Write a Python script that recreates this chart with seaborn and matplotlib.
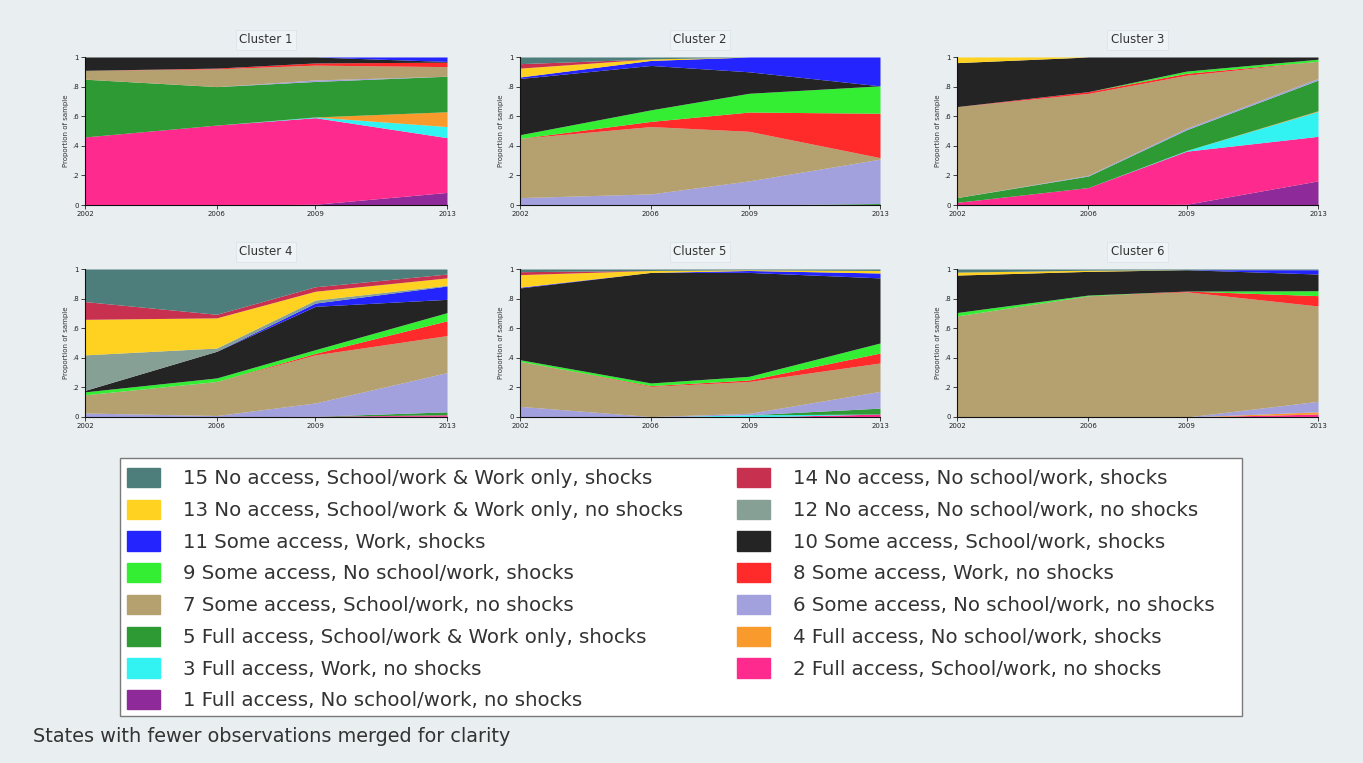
import matplotlib
matplotlib.use("Agg")
import matplotlib.pyplot as plt
from matplotlib.patches import Patch, Rectangle
import seaborn as sns

# ---------------- data ----------------
years = [2002, 2006, 2009, 2013]

state_labels = [
    "1 Full access, No school/work, no shocks",
    "2 Full access, School/work, no shocks",
    "3 Full access, Work, no shocks",
    "4 Full access, No school/work, shocks",
    "5 Full access, School/work & Work only, shocks",
    "6 Some access, No school/work, no shocks",
    "7 Some access, School/work, no shocks",
    "8 Some access, Work, no shocks",
    "9 Some access, No school/work, shocks",
    "10 Some access, School/work, shocks",
    "11 Some access, Work, shocks",
    "12 No access, No school/work, no shocks",
    "13 No access, School/work & Work only, no shocks",
    "14 No access, No school/work, shocks",
    "15 No access, School/work & Work only, shocks",
]

state_colors = [
    "#8e2a99",  # 1 purple
    "#ff2a8e",  # 2 pink
    "#33f2f2",  # 3 cyan
    "#f89a2c",  # 4 orange
    "#2e9a33",  # 5 dark green
    "#a3a0de",  # 6 lavender
    "#b5a170",  # 7 tan
    "#ff2a2a",  # 8 red
    "#33ee33",  # 9 bright green
    "#242424",  # 10 black
    "#2424ff",  # 11 blue
    "#86a096",  # 12 gray green
    "#ffd222",  # 13 yellow
    "#c8304f",  # 14 crimson
    "#4e7e7c",  # 15 teal
]

cluster_titles = ["Cluster 1", "Cluster 2", "Cluster 3",
                  "Cluster 4", "Cluster 5", "Cluster 6"]

# proportions of states 1..15, one row per year (2002, 2006, 2009, 2013)
cluster1 = [
    [0, .46, 0, 0, .39, 0, .06, 0, 0, .09, 0, 0, 0, 0, 0],
    [0, .54, 0, 0, .26, 0, .12, .005, 0, .075, 0, 0, 0, 0, 0],
    [.005, .585, .005, 0, .24, .01, .10, .015, 0, .04, 0, 0, 0, 0, 0],
    [.085, .37, .075, .10, .24, 0, .065, .03, 0, .005, .03, 0, 0, 0, 0],
]
cluster2 = [
    [0, 0, 0, 0, 0, .05, .40, 0, .025, .38, .01, 0, .06, .03, .045],
    [0, 0, 0, 0, 0, .075, .455, .035, .078, .30, .034, 0, .01, 0, .013],
    [0, 0, 0, 0, 0, .163, .335, .13, .127, .145, .10, 0, 0, 0, 0],
    [0, 0, 0, 0, .01, .30, .01, .30, .185, 0, .195, 0, 0, 0, 0],
]
cluster3 = [
    [0, .018, 0, 0, .032, 0, .615, 0, 0, .297, 0, 0, .038, 0, 0],
    [0, .118, 0, 0, .078, .005, .553, .012, 0, .234, 0, 0, 0, 0, 0],
    [.005, .359, .005, 0, .14, .01, .358, .013, .015, .095, 0, 0, 0, 0, 0],
    [.163, .301, .168, .005, .207, .011, .116, 0, .014, .015, 0, 0, 0, 0, 0],
]
cluster4 = [
    [0, 0, 0, 0, 0, .027, .123, 0, .02, .01, 0, .24, .24, .12, .22],
    [0, 0, 0, 0, 0, .01, .23, 0, .024, .18, 0, .022, .204, .024, .306],
    [.005, 0, 0, 0, 0, .09, .325, .01, .025, .293, .022, .02, .06, .03, .12],
    [.005, .01, 0, 0, .02, .265, .25, .10, .055, .09, .09, .005, .05, .026, .034],
]
cluster5 = [
    [0, 0, 0, 0, 0, .072, .304, 0, .011, .485, .005, 0, .085, .02, .018],
    [0, 0, 0, 0, 0, .003, .204, .005, .018, .747, 0, 0, .013, 0, .01],
    [0, 0, .015, 0, 0, .01, .215, .01, .025, .702, .013, 0, .005, 0, .005],
    [0, .02, 0, 0, .04, .113, .192, .067, .068, .44, .033, 0, .017, 0, .01],
]
cluster6 = [
    [0, 0, 0, 0, 0, 0, .683, 0, .023, .253, 0, 0, .02, 0, .021],
    [0, 0, 0, 0, 0, 0, .819, 0, .005, .16, 0, 0, .008, 0, .008],
    [0, 0, 0, 0, 0, 0, .846, .005, 0, .144, 0, 0, 0, 0, .005],
    [0, .02, 0, .015, 0, .071, .644, .07, .033, .113, .029, 0, 0, 0, .005],
]
clusters = [cluster1, cluster2, cluster3, cluster4, cluster5, cluster6]

x_ticks = [2002, 2006, 2009, 2013]
y_ticks = [0, .2, .4, .6, .8, 1]
y_ticklabels = ["0", ".2", ".4", ".6", ".8", "1"]
footnote = "States with fewer observations merged for clarity"

# ---------------- style ----------------
BG = "#e9eef1"
sns.set_theme(style="ticks")
plt.rcParams["font.family"] = ["DejaVu Sans"]

W, H = 1363, 763
fig = plt.figure(figsize=(W / 100, H / 100), dpi=100, facecolor=BG)

col_px = [(85, 447), (520, 880), (957, 1318)]
row_px = [(57, 205), (269, 417)]

for i, (title, data) in enumerate(zip(cluster_titles, clusters)):
    r, c = divmod(i, 3)
    x0, x1 = col_px[c]
    y0, y1 = row_px[r]
    ax = fig.add_axes([x0 / W, 1 - y1 / H, (x1 - x0) / W, (y1 - y0) / H])
    ax.set_facecolor(BG)
    series = [[data[t][s] for t in range(len(years))] for s in range(15)]
    ax.stackplot(years, *series, colors=state_colors, linewidth=0)
    ax.set_xlim(years[0], years[-1])
    ax.set_ylim(0, 1)
    ax.set_xticks(x_ticks)
    ax.set_xticklabels([str(v) for v in x_ticks], fontsize=5, color="#333333")
    ax.set_yticks(y_ticks)
    ax.set_yticklabels(y_ticklabels, fontsize=5, color="#333333")
    ax.tick_params(length=3, width=0.6, pad=1.5, colors="#222222")
    ax.set_ylabel("Proportion of sample", fontsize=5, color="#333333", labelpad=2)
    for side in ["top", "right"]:
        ax.spines[side].set_visible(False)
    for side in ["left", "bottom"]:
        ax.spines[side].set_color("#111111")
        ax.spines[side].set_linewidth(0.8)
    ax.set_title(title, fontsize=8.5, color="#333333", pad=10,
                 bbox=dict(boxstyle="square,pad=0.3", facecolor="#eef3f6",
                           edgecolor="#dde5ea", linewidth=0.6))

# legend box drawn as a figure-level rectangle
lx0, lx1, ly0, ly1 = 120, 1242, 458, 716
fig.patches.append(Rectangle((lx0 / W, 1 - ly1 / H), (lx1 - lx0) / W, (ly1 - ly0) / H,
                             transform=fig.transFigure, facecolor="white",
                             edgecolor="#7a7a7a", linewidth=1.0, zorder=0))

# legend: row-major order 15,14 / 13,12 / ... / 1 in two columns
left_col = [15, 13, 11, 9, 7, 5, 3, 1]
right_col = [14, 12, 10, 8, 6, 4, 2]
order = left_col + right_col
handles = [Patch(facecolor=state_colors[k - 1], edgecolor=state_colors[k - 1])
           for k in order]
labels = [state_labels[k - 1] for k in order]

leg = fig.legend(handles, labels, ncol=2,
                 bbox_to_anchor=(127 / W, 1 - 468 / H),
                 loc="upper left", fontsize=14.2, frameon=False,
                 handlelength=1.68, handleheight=1.12,
                 handletextpad=1.17, labelspacing=0.58, columnspacing=2.7,
                 borderpad=0, borderaxespad=0, labelcolor="#333333")

fig.text(33 / W, 1 - 736 / H, footnote, fontsize=13.9, color="#333333",
         va="center", ha="left")

fig.savefig("out.png", dpi=100, facecolor=BG)
